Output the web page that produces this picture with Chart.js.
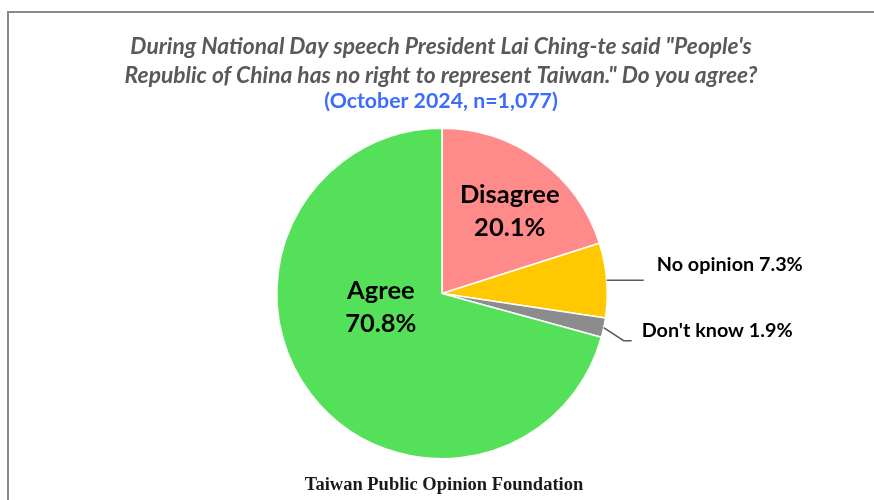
<!DOCTYPE html>
<html>
<head>
<meta charset="utf-8">
<title>Lai Ching-te National Day speech poll</title>
<script src="https://cdn.jsdelivr.net/npm/chart.js@4.4.0/dist/chart.umd.min.js"></script>
<style>
    html, body { margin: 0; padding: 0; background: #fff; }
    #wrap { width: 874px; height: 500px; }
</style>
</head>
<body>
<div id="wrap"><canvas id="pie" width="874" height="500"></canvas></div>
<script>
// 数据
var categories = ['Disagree', 'No opinion', "Don't know", 'Agree'];
var shares = [20.1, 7.3, 1.9, 70.8];
var titleLines = [
    'During National Day speech President Lai Ching-te said "People\'s',
    'Republic of China has no right to represent Taiwan." Do you agree?'
];
var subtitleText = '(October 2024, n=1,077)';
var footerText = 'Taiwan Public Opinion Foundation';

// 样式
var sliceColors = ['#FF8A8A', '#FFC800', '#8C8C8C', '#55E05A'];
var labelStyle = [
    {inside: true, fx: 0.41, fy: -0.50},
    {inside: false, elbowX: 0, elbowY: 0, runX: 37, textX: 13, textY: -16},
    {inside: false, elbowX: 20, elbowY: 13, runX: 8, textX: 10, textY: -10},
    {inside: true, fx: -0.37, fy: 0.08}
];

/**
 * 边框 + 标题 + 标签
 */
var decorPlugin = {
    id: 'decor',
    beforeDraw: function (chart) {
        var ctx = chart.ctx;
        ctx.save();
        ctx.fillStyle = '#fff';
        ctx.fillRect(0, 0, chart.width, chart.height);
        ctx.strokeStyle = '#8a8a8a';
        ctx.lineWidth = 2;
        ctx.beginPath();
        ctx.moveTo(chart.width, 12);
        ctx.lineTo(8, 12);
        ctx.lineTo(8, chart.height);
        ctx.stroke();

        ctx.textAlign = 'center';
        ctx.textBaseline = 'middle';
        ctx.fillStyle = '#595959';
        ctx.font = 'italic bold 22.8px Lato';
        ctx.fillText(titleLines[0], 441, 47);
        ctx.fillText(titleLines[1], 441, 76);
        ctx.fillStyle = '#3B6BFF';
        ctx.font = 'bold 21.3px Lato';
        ctx.fillText(subtitleText, 441, 101);
        ctx.fillStyle = '#1a1a1a';
        ctx.font = 'bold 18.5px "Liberation Serif"';
        ctx.fillText(footerText, 444, 485);
        ctx.restore();
    },
    afterDraw: function (chart) {
        var ctx = chart.ctx;
        var arcs = chart.getDatasetMeta(0).data;
        ctx.save();
        ctx.fillStyle = '#000';
        arcs.forEach(function (arc, i) {
            var st = labelStyle[i];
            var R = arc.outerRadius;
            var text = categories[i];
            var pct = shares[i].toFixed(1) + '%';
            if (st.inside) {
                var cx = arc.x + st.fx * R;
                var cy = arc.y + st.fy * R;
                ctx.font = 'bold 25.5px Lato';
                ctx.textAlign = 'center';
                ctx.textBaseline = 'middle';
                ctx.fillText(text, cx, cy - 16);
                ctx.fillText(pct, cx, cy + 17);
            } else {
                var mid = (arc.startAngle + arc.endAngle) / 2;
                var x0 = arc.x + Math.cos(mid) * R;
                var y0 = arc.y + Math.sin(mid) * R;
                var x1 = x0 + st.elbowX;
                var y1 = y0 + st.elbowY;
                var x2 = x1 + st.runX;
                ctx.strokeStyle = '#595959';
                ctx.lineWidth = 1.5;
                ctx.beginPath();
                ctx.moveTo(x0, y0);
                ctx.lineTo(x1, y1);
                ctx.lineTo(x2, y1);
                ctx.stroke();
                ctx.font = 'bold 19.8px Lato';
                ctx.textAlign = 'left';
                ctx.textBaseline = 'middle';
                ctx.fillText(text + ' ' + pct, x2 + st.textX, y1 + st.textY);
            }
        });
        ctx.restore();
    }
};

var ctx = document.getElementById('pie').getContext('2d');
window.myChart = new Chart(ctx, {
    type: 'pie',
    data: {
        labels: categories,
        datasets: [{
            data: shares,
            backgroundColor: sliceColors,
            borderColor: '#fff',
            borderWidth: 1.5
        }]
    },
    options: {
        responsive: false,
        animation: false,
        events: [],
        layout: {
            padding: {top: 127, bottom: 40, left: 276, right: 266}
        },
        plugins: {
            legend: {display: false},
            tooltip: {enabled: false},
            title: {display: false}
        }
    },
    plugins: [decorPlugin]
});
</script>
</body>
</html>
